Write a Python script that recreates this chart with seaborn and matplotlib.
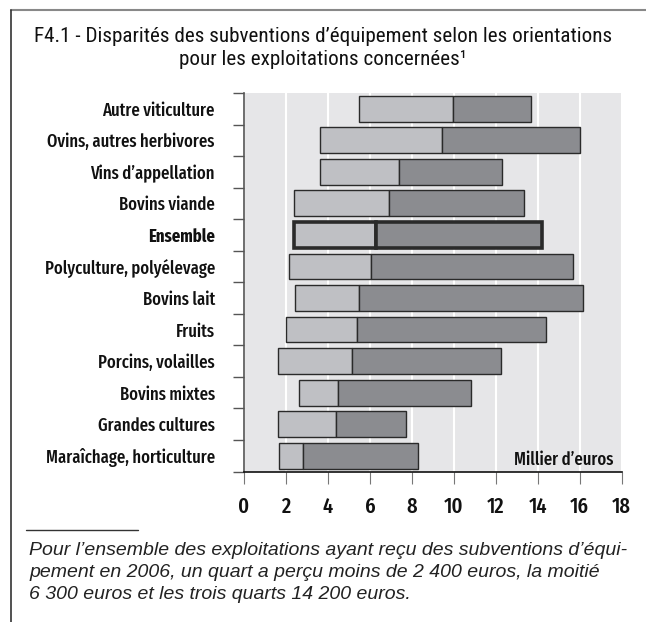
import matplotlib
matplotlib.use("Agg")
import matplotlib.pyplot as plt
from matplotlib.lines import Line2D
import numpy as np
import seaborn as sns

# orientations, from top to bottom
categories = [
    "Autre viticulture",
    "Ovins, autres herbivores",
    "Vins d’appellation",
    "Bovins viande",
    "Ensemble",
    "Polyculture, polyélevage",
    "Bovins lait",
    "Fruits",
    "Porcins, volailles",
    "Bovins mixtes",
    "Grandes cultures",
    "Maraîchage, horticulture",
]
# quartiles, milliers d'euros
q1 = [5.5, 3.6, 3.6, 2.4, 2.4, 2.15, 2.45, 2.0, 1.6, 2.6, 1.6, 1.65]
median = [9.95, 9.45, 7.4, 6.9, 6.3, 6.05, 5.5, 5.4, 5.15, 4.5, 4.4, 2.8]
q3 = [13.7, 16.0, 12.3, 13.35, 14.2, 15.7, 16.15, 14.4, 12.25, 10.8, 7.7, 8.3]
xticks = list(range(0, 19, 2))

title = [
    "F4.1 - Disparités des subventions d’équipement selon les orientations",
    "pour les exploitations concernées¹",
]
note = [
    "Pour l’ensemble des exploitations ayant reçu des subventions d’équi-",
    "pement en 2006, un quart a perçu moins de 2 400 euros, la moitié",
    "6 300 euros et les trois quarts 14 200 euros.",
]

sns.set_theme(style="white")
cond = ["Fira Sans Extra Condensed", "Barlow Condensed", "DejaVu Sans"]
narrow = ["Roboto Condensed", "Archivo Narrow", "Liberation Sans", "DejaVu Sans"]
plt.rcParams["font.family"] = cond

light = "#bfc0c4"
dark = "#8b8c90"
edge = "#2a2a2a"
W, H = 646, 622

fig = plt.figure(figsize=(W / 100, H / 100), dpi=100)
ax = fig.add_axes([244 / W, 1 - 471.5 / H, 377.7 / W, 378.5 / H])
ax.set_facecolor("#e6e6e8")

y = np.arange(len(categories))
lo = np.array(q1)
md = np.array(median)
hi = np.array(q3)
lw = [2.6 if c == "Ensemble" else 1.0 for c in categories]
ax.barh(y, md - lo, left=lo, height=0.82, color=light, edgecolor=edge, linewidth=lw, zorder=2)
ax.barh(y, hi - md, left=md, height=0.82, color=dark, edgecolor=edge, linewidth=lw, zorder=2)

ax.set_xlim(0, 18)
ax.set_ylim(len(categories) - 0.5, -0.5)
ax.set_xticks(xticks)
ax.set_xticklabels([str(t) for t in xticks])
ax.set_yticks(y)
ax.set_yticklabels(categories)
ax.set_yticks(np.arange(-0.5, len(categories), 1), minor=True)

ax.set_axisbelow(True)
ax.grid(axis="x", color="white", linewidth=1.5)
ax.grid(axis="y", visible=False)

ax.tick_params(axis="y", which="major", length=0, pad=21, labelsize=13, labelcolor="#111")
ax.tick_params(axis="y", which="minor", left=True, length=8, width=1, color="#555")
ax.tick_params(axis="x", bottom=True, length=8.5, width=0.8, color="#777", pad=9,
               labelsize=16, labelcolor="#111")
for lab in ax.get_yticklabels():
    lab.set_fontweight("bold" if lab.get_text() == "Ensemble" else "medium")
for lab in ax.get_xticklabels():
    lab.set_fontweight("medium")

for s in ["top", "right"]:
    ax.spines[s].set_visible(False)
ax.spines["left"].set_color("#555")
ax.spines["left"].set_linewidth(1.2)
ax.spines["bottom"].set_color("#111")
ax.spines["bottom"].set_linewidth(1.2)

fig.text(613 / W, 1 - 465 / H, "Millier d’euros", ha="right", va="baseline",
         fontsize=13, fontweight="medium", color="#111")

for i, line in enumerate(title):
    fig.text(323 / W, 1 - (42 + 23 * i) / H, line, ha="center", va="baseline",
             family=narrow, fontsize=15.2, color="#111")

for i, line in enumerate(note):
    fig.text(29 / W, 1 - (555 + 22 * i) / H, line, ha="left", va="baseline",
             family=["Liberation Sans", "DejaVu Sans"], style="italic",
             fontsize=14, color="#222")

# frame and note rule
fig.add_artist(Line2D([11 / W, 1], [1 - 10 / H, 1 - 10 / H], color="#888", linewidth=1.5))
fig.add_artist(Line2D([11 / W, 11 / W], [1 - 10 / H, 0], color="#333", linewidth=1.2))
fig.add_artist(Line2D([26 / W, 138 / W], [1 - 530 / H, 1 - 530 / H], color="#333", linewidth=1))

fig.savefig("out.png", dpi=100)
